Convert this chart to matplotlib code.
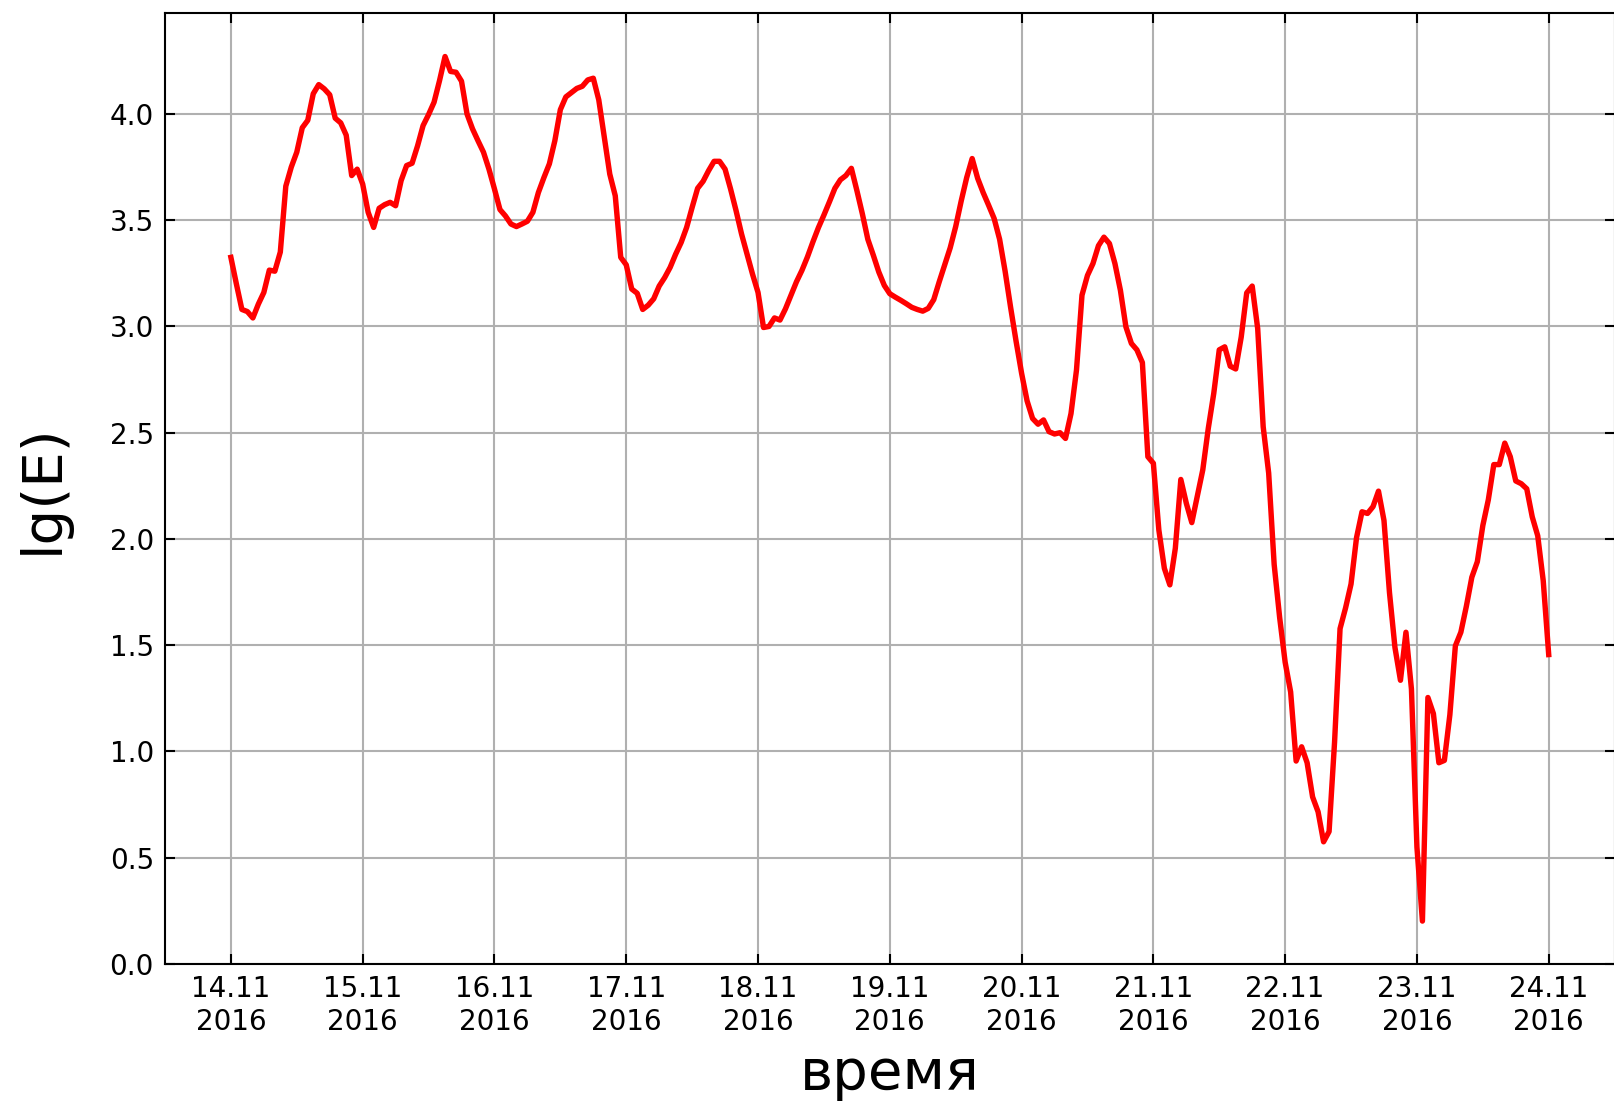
import pandas as pd
import matplotlib
matplotlib.use("Agg")
import matplotlib.pyplot as plt
import matplotlib.dates as mdates

# hourly lg(E) readings, 14.11.2016 00:00 .. 24.11.2016 00:00
start = "2016-11-14 00:00"
lg_e = [
    # 14.11
    3.325, 3.20, 3.08, 3.07, 3.04, 3.105, 3.16, 3.265, 3.26, 3.35, 3.66, 3.75,
    3.82, 3.935, 3.97, 4.095, 4.138, 4.118, 4.09, 3.98, 3.958, 3.90, 3.71, 3.74,
    # 15.11
    3.67, 3.537, 3.466, 3.556, 3.573, 3.584, 3.568, 3.686, 3.757, 3.768, 3.85, 3.945,
    3.997, 4.055, 4.157, 4.27, 4.20, 4.196, 4.154, 4.00, 3.93, 3.874, 3.82, 3.74,
    # 16.11
    3.647, 3.55, 3.52, 3.482, 3.47, 3.482, 3.495, 3.537, 3.63, 3.70, 3.765, 3.874,
    4.02, 4.08, 4.10, 4.12, 4.13, 4.16, 4.168, 4.066, 3.89, 3.717, 3.615, 3.325,
    # 17.11
    3.29, 3.176, 3.156, 3.08, 3.10, 3.13, 3.19, 3.23, 3.278, 3.34, 3.395, 3.466,
    3.56, 3.65, 3.683, 3.733, 3.777, 3.777, 3.74, 3.647, 3.545, 3.435, 3.34, 3.246,
    # 18.11
    3.16, 2.995, 3.00, 3.04, 3.03, 3.083, 3.146, 3.21, 3.264, 3.327, 3.398, 3.465,
    3.524, 3.586, 3.65, 3.69, 3.71, 3.744, 3.64, 3.53, 3.41, 3.335, 3.256, 3.193,
    # 19.11
    3.154, 3.138, 3.123, 3.107, 3.09, 3.08, 3.072, 3.085, 3.126, 3.21, 3.29, 3.37,
    3.47, 3.59, 3.70, 3.79, 3.697, 3.63, 3.57, 3.508, 3.41, 3.26, 3.09, 2.93,
    # 20.11
    2.78, 2.65, 2.567, 2.54, 2.56, 2.505, 2.494, 2.50, 2.473, 2.59, 2.795, 3.147,
    3.24, 3.296, 3.38, 3.42, 3.39, 3.296, 3.17, 2.998, 2.92, 2.89, 2.83, 2.387,
    # 21.11
    2.356, 2.042, 1.862, 1.784, 1.956, 2.28, 2.168, 2.077, 2.20, 2.325, 2.52, 2.685,
    2.89, 2.904, 2.813, 2.80, 2.95, 3.158, 3.19, 2.99, 2.528, 2.31, 1.88, 1.63,
    # 22.11
    1.42, 1.28, 0.955, 1.022, 0.947, 0.786, 0.716, 0.575, 0.623, 1.044, 1.578, 1.675,
    1.788, 2.006, 2.128, 2.12, 2.152, 2.225, 2.087, 1.748, 1.489, 1.335, 1.561, 1.294,
    # 23.11
    0.55, 0.202, 1.254, 1.178, 0.947, 0.958, 1.173, 1.497, 1.561, 1.683, 1.82, 1.893,
    2.063, 2.184, 2.35, 2.35, 2.451, 2.387, 2.273, 2.26, 2.236, 2.104, 2.015, 1.804,
    # 24.11
    1.456,
]
y_ticks = [0.0, 0.5, 1.0, 1.5, 2.0, 2.5, 3.0, 3.5, 4.0]

times = pd.date_range(start, periods=len(lg_e), freq="h")

fig = plt.figure(figsize=(16.15, 11.02), dpi=100)
W, H = 1615, 1102
ax = fig.add_axes([165 / W, 1 - 964 / H, (1614.6 - 165) / W, (964 - 13.4) / H])

ax.plot(times, lg_e, color="red", lw=3.9)

ax.set_xlim(pd.Timestamp("2016-11-13 12:00"), pd.Timestamp("2016-11-24 12:00"))
ax.set_ylim(0, 4.473)
ax.set_yticks(y_ticks)
ax.xaxis.set_major_locator(mdates.DayLocator())
ax.xaxis.set_major_formatter(mdates.DateFormatter("%d.%m\n%Y"))

ax.grid(True, color="#b0b0b0", lw=1.5)
ax.set_axisbelow(True)
for s in ax.spines.values():
    s.set_linewidth(1.5)
ax.tick_params(direction="in", top=True, right=True, length=7, width=1.5,
               labelsize=20, pad=8)

ax.set_xlabel("время", fontsize=40.5)
ax.set_ylabel("lg(E)", fontsize=40.5)
ax.xaxis.set_label_coords(0.5, -(1047 - 964) / (964 - 13.4))
ax.yaxis.set_label_coords(-(165 - 70) / (1614.6 - 165), 0.5)

fig.savefig("out.png", dpi=100)
